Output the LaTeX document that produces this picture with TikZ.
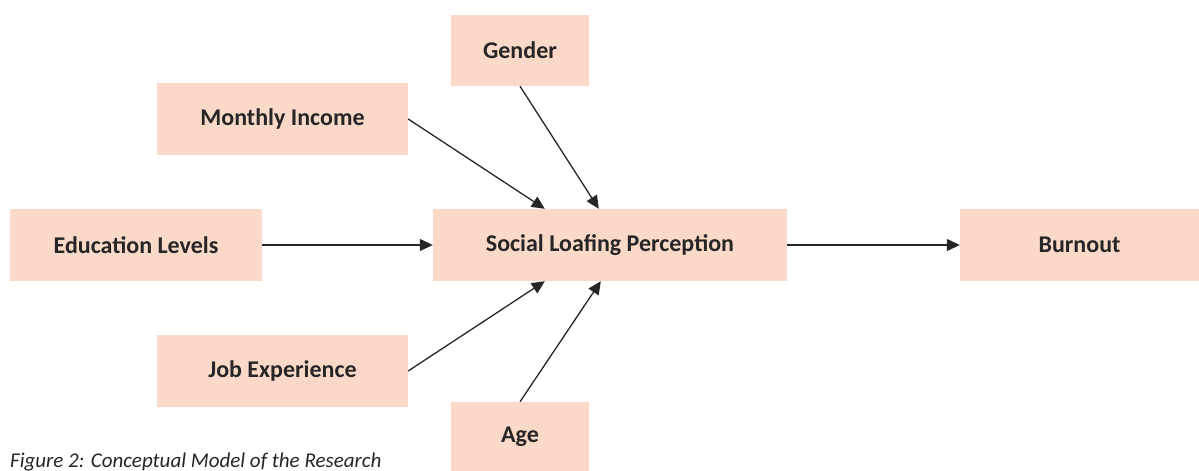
\documentclass[tikz,border=0pt]{standalone}
\usepackage{fontspec}
\setmainfont{Carlito}
\usetikzlibrary{arrows.meta}
\definecolor{boxpeach}{HTML}{FAD9C9}
\definecolor{txtdark}{HTML}{262626}

\begin{document}
\begin{tikzpicture}[x=1pt, y=-1pt,
    factor/.style={fill=boxpeach, draw=none, inner sep=0pt,
        font=\bfseries\fontsize{24}{28}\selectfont, text=txtdark},
    link/.style={line width=1.3pt, draw=txtdark,
        -{Triangle[length=13pt,width=12pt]}}
]
    \useasboundingbox (0,0) rectangle (1199,471);
    \node[factor, minimum width=138pt, minimum height=71pt] (gender) at (520,50.5) {Gender};
    \node[factor, minimum width=251pt, minimum height=72pt] (income) at (282.5,119) {Monthly Income};
    \node[factor, minimum width=252pt, minimum height=72pt] (edu) at (136,245) {Education Levels};
    \node[factor, minimum width=354pt, minimum height=72pt] (slp) at (610,245) {Social Loafing Perception};
    \node[factor, minimum width=239pt, minimum height=72pt] (burnout) at (1079.5,245) {Burnout};
    \node[factor, minimum width=251pt, minimum height=72pt] (jobexp) at (282.5,371) {Job Experience};
    \node[factor, minimum width=138pt, minimum height=69pt] (age) at (520,436.5) {Age};
    \node[anchor=base west, inner sep=0pt, text=txtdark,
        font=\itshape\fontsize{21}{25}\selectfont] (caption) at (10,467) {Figure 2: Conceptual Model of the Research};
    \draw[link] (income.east) -- ([xshift=112pt]slp.north west);
    \draw[link] (gender.south) -- ([xshift=166pt]slp.north west);
    \draw[link] (edu.east) -- (slp.west);
    \draw[link] (jobexp.east) -- ([xshift=112pt]slp.south west);
    \draw[link] (age.north) -- ([xshift=168pt]slp.south west);
    \draw[link] (slp.east) -- (burnout.west);
\end{tikzpicture}
\end{document}
